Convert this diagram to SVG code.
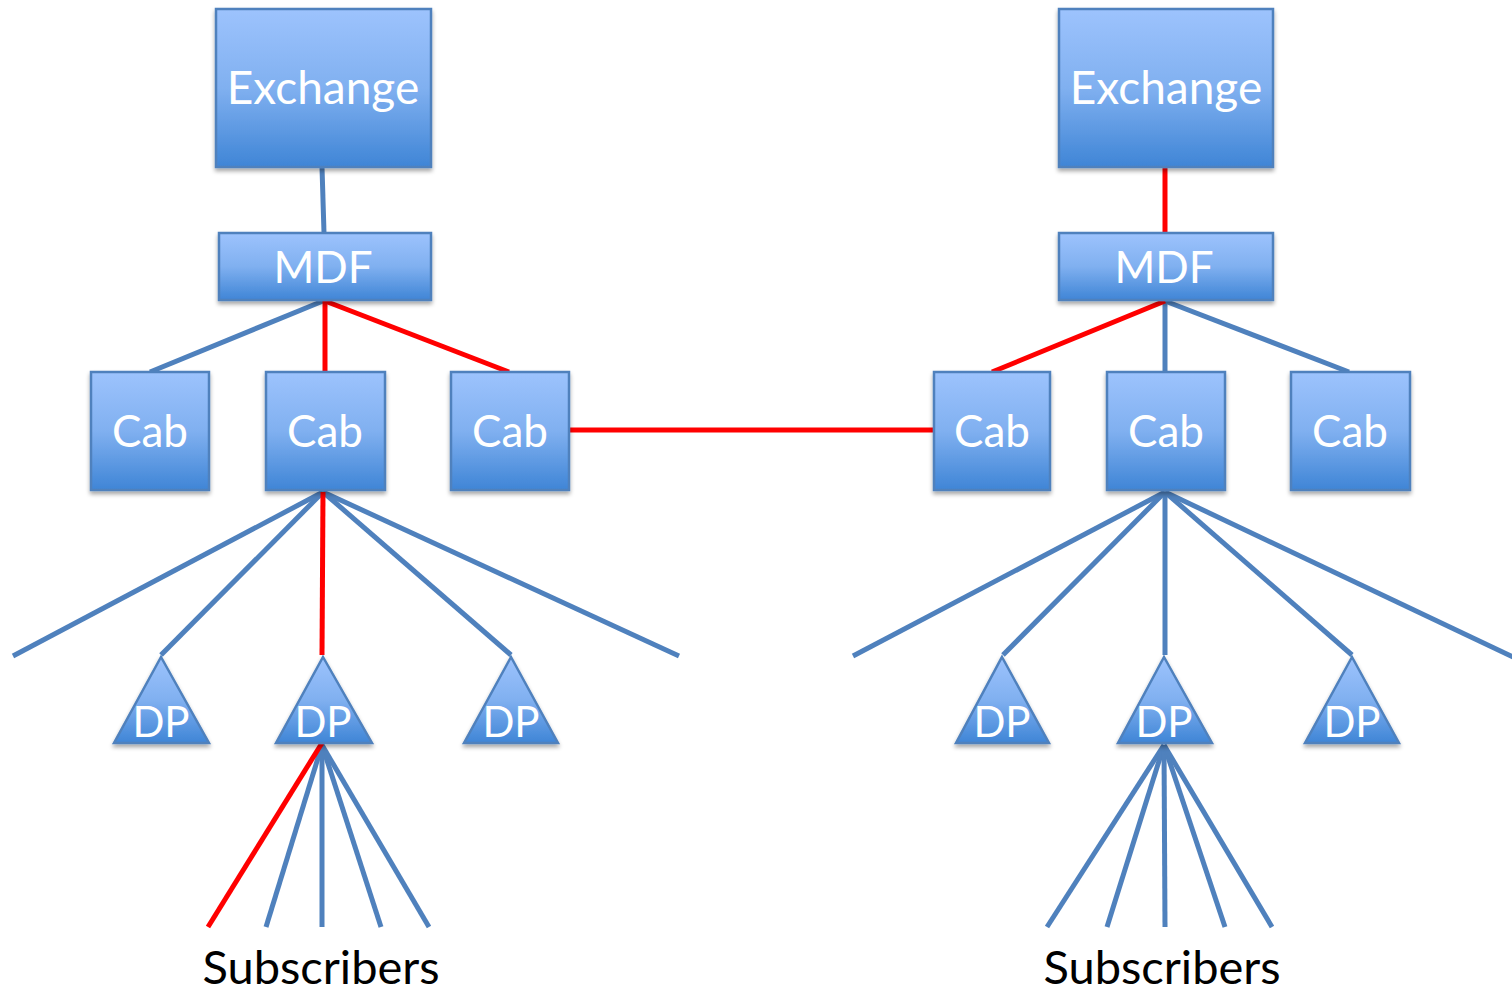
<svg xmlns="http://www.w3.org/2000/svg" width="1512" height="991" viewBox="0 0 1512 991">
  <defs>
    <linearGradient id="fillBlue" x1="0" y1="0" x2="0" y2="1">
      <stop offset="0" stop-color="#9dc3fd"/>
      <stop offset="0.5" stop-color="#80b0f0"/>
      <stop offset="1" stop-color="#3f85d6"/>
    </linearGradient>
    <filter id="shadow" x="-10%" y="-10%" width="120%" height="125%">
      <feGaussianBlur in="SourceAlpha" stdDeviation="2"/>
      <feOffset dx="0" dy="3" result="b"/>
      <feComponentTransfer><feFuncA type="linear" slope="0.35"/></feComponentTransfer>
      <feMerge><feMergeNode/><feMergeNode in="SourceGraphic"/></feMerge>
    </filter>
  </defs>
  <style>
    .box { fill: url(#fillBlue); stroke: #4f81bd; stroke-width: 2.5; filter: url(#shadow); }
    .lbl { fill: #ffffff; font-family: Lato, "Open Sans", sans-serif; text-anchor: middle; }
    .blue { stroke: #4f81bd; stroke-width: 5; fill: none; }
    .red { stroke: #ff0000; stroke-width: 5; fill: none; }
    .sub { fill: #000000; font-family: Lato, "Open Sans", sans-serif; font-size: 47px; text-anchor: middle; }
  </style>

  <!-- links -->
  <g id="connectors">
    <!-- left tree -->
    <line class="blue" x1="322" y1="167" x2="324" y2="233"/>
    <line class="blue" x1="323" y1="301" x2="150" y2="372"/>
    <line class="red" x1="325" y1="301" x2="325" y2="372"/>
    <line class="red" x1="325" y1="301" x2="509" y2="372"/>
    <line class="blue" x1="323" y1="492" x2="13" y2="656"/>
    <line class="blue" x1="323" y1="492" x2="161" y2="655"/>
    <line class="blue" x1="323" y1="492" x2="511" y2="655"/>
    <line class="blue" x1="323" y1="492" x2="679" y2="656"/>
    <line class="red" x1="323" y1="492" x2="322" y2="655"/>
    <line class="blue" x1="322" y1="745" x2="266" y2="927"/>
    <line class="blue" x1="322" y1="745" x2="322" y2="927"/>
    <line class="blue" x1="322" y1="745" x2="381" y2="927"/>
    <line class="blue" x1="322" y1="745" x2="429" y2="927"/>
    <line class="red" x1="322" y1="743" x2="208" y2="927"/>
    <!-- cabinet to cabinet -->
    <line class="red" x1="569" y1="430" x2="934" y2="430"/>
    <!-- right tree -->
    <line class="red" x1="1165" y1="167" x2="1165" y2="233"/>
    <line class="blue" x1="1165" y1="301" x2="1165" y2="372"/>
    <line class="blue" x1="1165" y1="301" x2="1349" y2="372"/>
    <line class="red" x1="1165" y1="301" x2="992" y2="372"/>
    <line class="blue" x1="1165" y1="492" x2="853" y2="656"/>
    <line class="blue" x1="1165" y1="492" x2="1003" y2="655"/>
    <line class="blue" x1="1165" y1="492" x2="1165" y2="655"/>
    <line class="blue" x1="1165" y1="492" x2="1352" y2="655"/>
    <line class="blue" x1="1165" y1="492" x2="1515" y2="658"/>
    <line class="blue" x1="1164" y1="745" x2="1047" y2="927"/>
    <line class="blue" x1="1164" y1="745" x2="1107" y2="927"/>
    <line class="blue" x1="1164" y1="745" x2="1165" y2="927"/>
    <line class="blue" x1="1164" y1="745" x2="1225" y2="927"/>
    <line class="blue" x1="1164" y1="745" x2="1272" y2="927"/>
  </g>

  <!-- left network -->
  <g id="exchange-left">
    <rect class="box" x="216" y="9" width="215" height="158"/>
    <text class="lbl" x="323" y="104" font-size="46">Exchange</text>
  </g>
  <g id="mdf-left">
    <rect class="box" x="219" y="233" width="212" height="67"/>
    <text class="lbl" x="323" y="283" font-size="44">MDF</text>
  </g>
  <g id="cab-left-1">
    <rect class="box" x="91" y="372" width="118" height="118"/>
    <text class="lbl" x="150" y="447" font-size="44">Cab</text>
  </g>
  <g id="cab-left-2">
    <rect class="box" x="266" y="372" width="119" height="118"/>
    <text class="lbl" x="325" y="447" font-size="44">Cab</text>
  </g>
  <g id="cab-left-3">
    <rect class="box" x="451" y="372" width="118" height="118"/>
    <text class="lbl" x="510" y="447" font-size="44">Cab</text>
  </g>
  <g id="dp-left-1">
    <polygon class="box" points="161,657 209,743 114,743"/>
    <text class="lbl" x="161" y="737" font-size="42">DP</text>
  </g>
  <g id="dp-left-2">
    <polygon class="box" points="323,657 372,743 276,743"/>
    <text class="lbl" x="323" y="737" font-size="42">DP</text>
  </g>
  <g id="dp-left-3">
    <polygon class="box" points="511,657 558,743 464,743"/>
    <text class="lbl" x="511" y="737" font-size="42">DP</text>
  </g>
  <g id="subscribers-left">
    <text class="sub" x="321" y="984">Subscribers</text>
  </g>

  <!-- right network -->
  <g id="exchange-right">
    <rect class="box" x="1059" y="9" width="214" height="158"/>
    <text class="lbl" x="1166" y="104" font-size="46">Exchange</text>
  </g>
  <g id="mdf-right">
    <rect class="box" x="1059" y="233" width="214" height="67"/>
    <text class="lbl" x="1164" y="283" font-size="44">MDF</text>
  </g>
  <g id="cab-right-1">
    <rect class="box" x="934" y="372" width="116" height="118"/>
    <text class="lbl" x="992" y="447" font-size="44">Cab</text>
  </g>
  <g id="cab-right-2">
    <rect class="box" x="1107" y="372" width="118" height="118"/>
    <text class="lbl" x="1166" y="447" font-size="44">Cab</text>
  </g>
  <g id="cab-right-3">
    <rect class="box" x="1291" y="372" width="119" height="118"/>
    <text class="lbl" x="1350" y="447" font-size="44">Cab</text>
  </g>
  <g id="dp-right-1">
    <polygon class="box" points="1002,657 1049,743 956,743"/>
    <text class="lbl" x="1002" y="737" font-size="42">DP</text>
  </g>
  <g id="dp-right-2">
    <polygon class="box" points="1164,657 1212,743 1118,743"/>
    <text class="lbl" x="1164" y="737" font-size="42">DP</text>
  </g>
  <g id="dp-right-3">
    <polygon class="box" points="1352,657 1399,743 1305,743"/>
    <text class="lbl" x="1352" y="737" font-size="42">DP</text>
  </g>
  <g id="subscribers-right">
    <text class="sub" x="1162" y="984">Subscribers</text>
  </g>
</svg>
